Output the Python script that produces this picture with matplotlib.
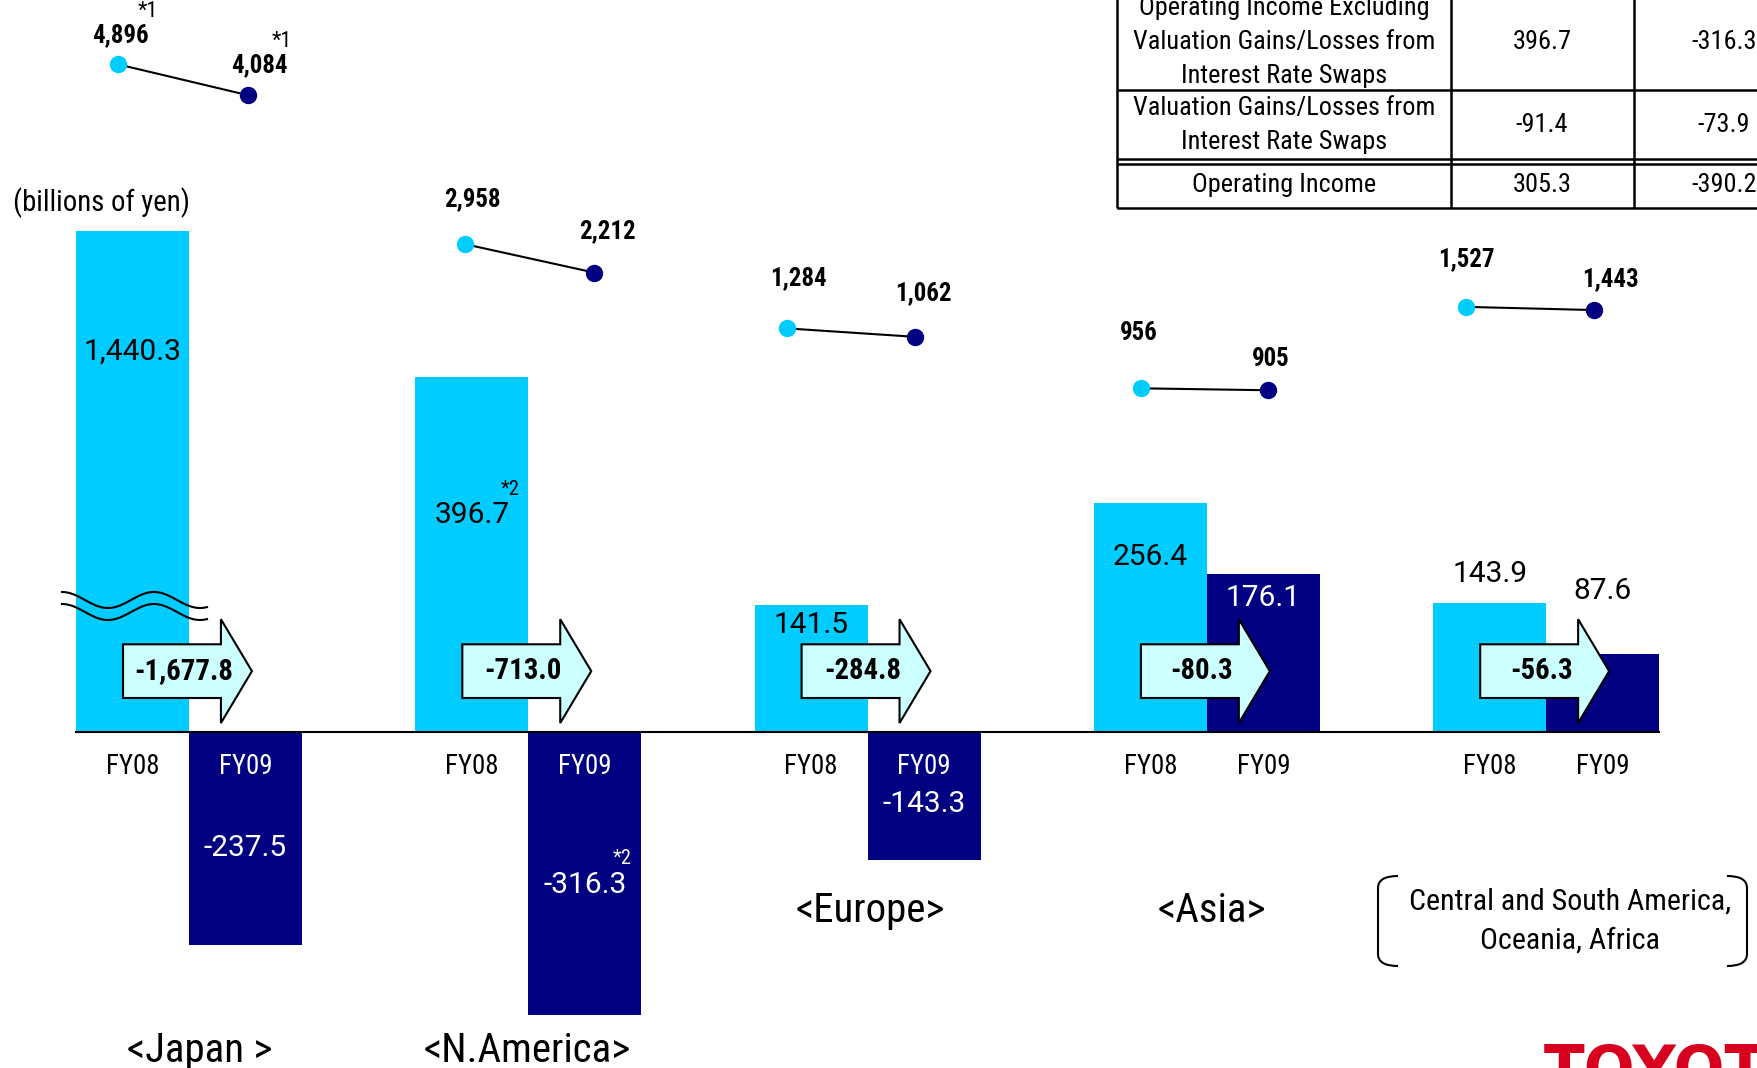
import numpy as np
import matplotlib
matplotlib.use('Agg')
import matplotlib.pyplot as plt
from matplotlib import font_manager
from matplotlib.patches import FancyArrow, Rectangle, PathPatch
from matplotlib.path import Path

# operating income by region (billions of yen)
regions = ['<Japan >', '<N.America>', '<Europe>', '<Asia>',
           'Central and South America,\nOceania, Africa']
income_fy08 = [1440.3, 396.7, 141.5, 256.4, 143.9]
income_fy09 = [-237.5, -316.3, -143.3, 176.1, 87.6]
income_change = [-1677.8, -713.0, -284.8, -80.3, -56.3]

# vehicle sales (thousands of units)
sales_fy08 = [4896, 2958, 1284, 956, 1527]
sales_fy09 = [4084, 2212, 1062, 905, 1443]

# N.America swap breakdown
swap_rows = ['Operating Income Excluding\nValuation Gains/Losses from\nInterest Rate Swaps',
             'Valuation Gains/Losses from\nInterest Rate Swaps',
             'Operating Income']
swap_fy08 = [396.7, -91.4, 305.3]
swap_fy09 = [-316.3, -73.9, -390.2]

# pick a narrow face if one is installed, otherwise shrink the regular one
names = {f.name for f in font_manager.fontManager.ttflist}
NARROW, k = 'Liberation Sans', 0.84
for fam, scale in [('Liberation Sans Narrow', 1.0), ('Roboto Condensed', 0.92)]:
    if fam in names:
        NARROW, k = fam, scale
        break


def fs(size):
    return size * k


CYAN = '#00CCFF'
NAVY = '#000080'
PALE = '#CCFFFF'

W, H = 1757, 1068
fig = plt.figure(figsize=(W / 100, H / 100), dpi=100)

# data axes: y in billions of yen, x in region index
ax = fig.add_axes([0, 0, 1, 1])
px_per_unit = 0.895
base_px = 732
group_px = 339.3
first_center = 189
ax.set_ylim(-(H - base_px) / px_per_unit, base_px / px_per_unit)
ax.set_xlim(-first_center / group_px, (W - first_center) / group_px)
ax.axis('off')

# overlay axes in pixel units for the table and decorations
ov = fig.add_axes([0, 0, 1, 1], zorder=5)
ov.set_xlim(0, W)
ov.set_ylim(H, 0)
ov.axis('off')
ov.patch.set_alpha(0)

x = np.arange(len(regions))
bw = 0.333

bars08 = ax.bar(x - bw / 2, income_fy08, bw, color=CYAN, zorder=2)
bars09 = ax.bar(x + bw / 2, income_fy09, bw, color=NAVY, zorder=2)

# Japan FY08 is drawn on a broken axis
break_top = 560
clip = Rectangle((-1, -400), 2, 400 + break_top, transform=ax.transData)
bars08[0].set_clip_path(clip)

ax.plot([x[0] - bw, x[-1] + bw], [0, 0], color='black', lw=1.5, zorder=3)

# wavy break marks
wx = np.linspace(62, 207, 120)
wy = 600 - 8 * np.cos(2 * np.pi * (wx - 62) / 92)
ov.plot(wx, wy, color='black', lw=1.5)
ov.plot(wx, wy + 12, color='black', lw=1.5)

# bar value labels
label_y08 = [425, 242, 119, 196, 176]
label_y09 = [-130, -171, -81, 150, 158]
color09 = ['white', 'white', 'white', 'white', 'black']
for i in range(len(x)):
    ax.text(x[i] - bw / 2, label_y08[i], f'{income_fy08[i]:,.1f}', ha='center', va='center',
            fontsize=21.5, family='Roboto', color='black', zorder=4)
    ax.text(x[i] + bw / 2, label_y09[i], f'{income_fy09[i]:,.1f}', ha='center', va='center',
            fontsize=21.5, family='Roboto', color=color09[i], zorder=4)

ax.annotate('*2', (x[1] - bw / 2, label_y08[1]), xytext=(38, 26), textcoords='offset pixels',
            ha='center', va='center', fontsize=fs(16), family=NARROW, zorder=4)
ax.annotate('*2', (x[1] + bw / 2, label_y09[1]), xytext=(37, 27), textcoords='offset pixels',
            ha='center', va='center', fontsize=fs(16), family=NARROW, color='white', zorder=4)

# FY tick labels
fy_color09 = ['white', 'white', 'white', 'black', 'black']
for i in range(len(x)):
    ax.text(x[i] - bw / 2, -39, 'FY08', ha='center', va='center', fontsize=fs(21),
            family=NARROW, zorder=4)
    ax.text(x[i] + bw / 2, -39, 'FY09', ha='center', va='center', fontsize=fs(21),
            family=NARROW, color=fy_color09[i], zorder=4)

# change arrows
arrow_y = 68
for i in range(len(x)):
    ax.add_patch(FancyArrow(x[i] - 0.1945, arrow_y, 0.380, 0, width=60, head_width=116,
                            head_length=0.0914, length_includes_head=True,
                            fc=PALE, ec='black', lw=1.5, zorder=3))
    ax.text(x[i] - 0.015, arrow_y, f'{income_change[i]:,.1f}', ha='center', va='center',
            fontsize=fs(22.5), fontweight='bold', family=NARROW, zorder=4)

# vehicle sales dots
dot_base = [746, 545, 451, 384, 475]
dot_dx08 = [-71, -63, -81, -66, -80]
dot_dx09 = [59, 66, 47, 61, 48]
sales_scale = 0.0425
off08 = [(2, 29), (7, 45), (12, 50), (-2, 55), (0, 48)]
off09 = [(11, 30), (13, 41), (9, 44), (3, 31), (16, 31)]
for i in range(len(x)):
    x08 = x[i] + dot_dx08[i] / group_px
    x09 = x[i] + dot_dx09[i] / group_px
    y08 = dot_base[i]
    y09 = dot_base[i] + (sales_fy09[i] - sales_fy08[i]) * sales_scale
    ax.plot([x08, x09], [y08, y09], color='black', lw=1.5, zorder=3)
    ax.plot(x08, y08, 'o', ms=11.5, color=CYAN, zorder=4)
    ax.plot(x09, y09, 'o', ms=11.5, color=NAVY, zorder=4)
    ax.annotate(f'{sales_fy08[i]:,}', (x08, y08), xytext=off08[i], textcoords='offset pixels',
                ha='center', va='center', fontsize=fs(19.5), fontweight='bold', family=NARROW)
    ax.annotate(f'{sales_fy09[i]:,}', (x09, y09), xytext=off09[i], textcoords='offset pixels',
                ha='center', va='center', fontsize=fs(19.5), fontweight='bold', family=NARROW)
    if i == 0:
        ax.annotate('*1', (x08, y08), xytext=(off08[i][0] + 28, off08[i][1] + 24),
                    textcoords='offset pixels', ha='center', va='center', fontsize=fs(17),
                    family=NARROW)
        ax.annotate('*1', (x09, y09), xytext=(off09[i][0] + 23, off09[i][1] + 24),
                    textcoords='offset pixels', ha='center', va='center', fontsize=fs(17),
                    family=NARROW)

ov.text(13, 203, '(billions of yen)', ha='left', va='center', fontsize=fs(22.5), family=NARROW)

# region names
region_xy = [(200, 1050), (527, 1050), (870, 911), (1212, 911), (1570, 921)]
for name, (rx, ry) in zip(regions, region_xy):
    if '\n' in name:
        ov.text(rx, ry, name, ha='center', va='center', family=NARROW,
                fontsize=fs(23.5), linespacing=1.5)
    else:
        ov.text(rx, ry, name, ha='center', va='center', family=NARROW, fontsize=fs(32))

# brackets around the last region name
for bx, hook in [(1378, 20), (1747, -20)]:
    verts = [(bx + hook, 876), (bx, 876), (bx, 888), (bx, 954), (bx, 966), (bx + hook, 966)]
    codes = [Path.MOVETO, Path.CURVE3, Path.CURVE3, Path.LINETO, Path.CURVE3, Path.CURVE3]
    ov.add_patch(PathPatch(Path(verts, codes), fill=False, ec='black', lw=1.5))

# swap breakdown table
col_x = [1117, 1451, 1634]
ov.vlines(col_x, -5, 208, color='black', lw=1.8)
ov.hlines([90, 159, 164, 208], 1117, 1800, color='black', lw=1.8)
row_y = [42, 125, 185]
for label, v08, v09, ry in zip(swap_rows, swap_fy08, swap_fy09, row_y):
    ov.text(1284, ry, label, ha='center', va='center', fontsize=fs(20.5), family=NARROW,
            linespacing=1.55)
    ov.text(1542, ry, f'{v08:.1f}', ha='center', va='center', fontsize=fs(20.5), family=NARROW)
    ov.text(1724, ry, f'{v09:.1f}', ha='center', va='center', fontsize=fs(20.5), family=NARROW)

fig.text(1544 / W, -0.0197, 'TOYOTA', color='#D7001F', fontsize=43, fontweight='bold',
         family='DejaVu Sans', ha='left', va='baseline')

fig.savefig('out.png', dpi=100)
